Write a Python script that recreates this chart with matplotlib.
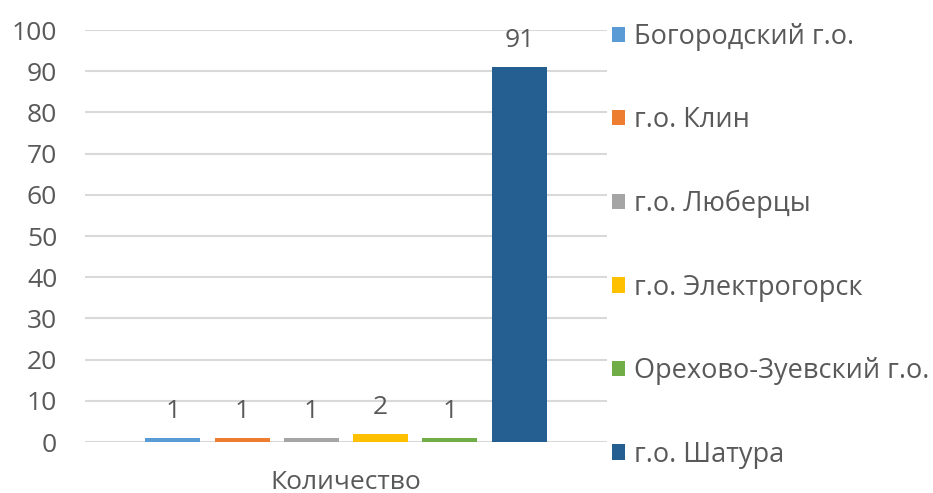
import matplotlib
matplotlib.use("Agg")
import matplotlib.pyplot as plt
from matplotlib.patches import Patch

categories = ["Количество"]
series_names = ["Богородский г.о.", "г.о. Клин", "г.о. Люберцы",
                "г.о. Электрогорск", "Орехово-Зуевский г.о.", "г.о. Шатура"]
values = [1, 1, 1, 2, 1, 91]
colors = ["#5B9BD5", "#ED7D31", "#A5A5A5", "#FFC000", "#70AD47", "#255E91"]
yticks = [0, 10, 20, 30, 40, 50, 60, 70, 80, 90, 100]

plt.rcParams['font.family'] = ['Open Sans', 'DejaVu Sans']
txt = "#595959"
fs = 19

fig = plt.figure(figsize=(9.33, 4.93), dpi=100)
ax = fig.add_axes([85/933, 1-442/493, (607-85)/933, (442-30)/493])

step = 0.1328
width = 0.1054
n = len(values)
for i, (v, c) in enumerate(zip(values, colors)):
    x = (i - (n-1)/2) * step
    ax.bar(x, v, width=width, color=c, zorder=3)
    ax.text(x, v + 3.4, str(v), ha='center', va='bottom', fontsize=fs, color=txt)

ax.set_xlim(-0.5, 0.5)
ax.set_ylim(0, 100)
ax.set_yticks(yticks)
ax.set_yticklabels([str(t) for t in yticks], fontsize=fs, color=txt)
ax.set_xticks([0])
ax.set_xticklabels(categories, fontsize=fs, color=txt)
ax.tick_params(axis='both', length=0)
ax.tick_params(axis='y', pad=20)
ax.tick_params(axis='x', pad=20)
ax.grid(axis='y', color='#D9D9D9', linewidth=1.5, zorder=0)
for s in ax.spines.values():
    s.set_visible(False)

handles = [Patch(facecolor=c, edgecolor='none') for c in colors]
leg = fig.legend(handles, series_names, loc='upper left',
                 bbox_to_anchor=(601/933, 1-12/493), frameon=False,
                 fontsize=19.5, labelcolor=txt, handlelength=0.5, handleheight=0.5,
                 handletextpad=0.33, labelspacing=2.05, borderaxespad=0)

fig.savefig("out.png", dpi=100)
